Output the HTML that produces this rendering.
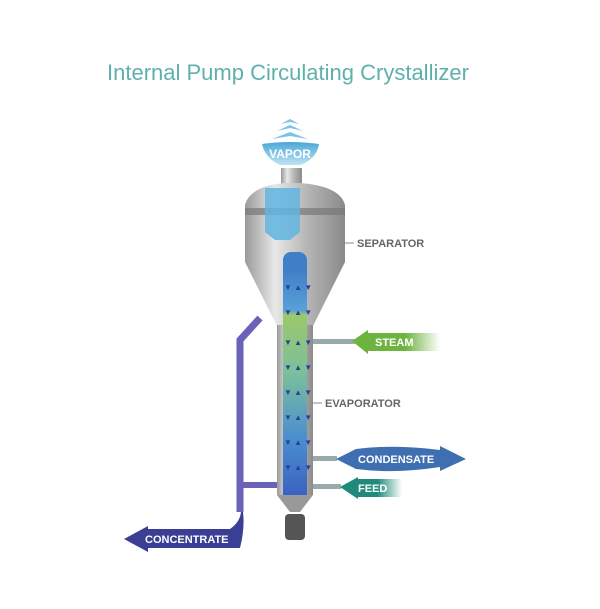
<!DOCTYPE html>
<html><head><style>
body{margin:0;background:#fff}
svg{display:block}
text{font-family:"Liberation Sans",sans-serif}
</style></head><body>
<svg width="600" height="609" viewBox="0 0 600 609">
<defs>
<linearGradient id="metal" x1="0" x2="1">
<stop offset="0" stop-color="#9a9a9a"/><stop offset="0.3" stop-color="#e8e8e8"/><stop offset="0.6" stop-color="#b8b8b8"/><stop offset="1" stop-color="#8a8a8a"/></linearGradient>
<linearGradient id="col" x1="0" y1="0" x2="0" y2="1">
<stop offset="0" stop-color="#3f7fc8"/><stop offset="0.18" stop-color="#5aa0d8"/><stop offset="0.2" stop-color="#9cc86a"/><stop offset="0.45" stop-color="#7cc09a"/><stop offset="0.75" stop-color="#4a8ed0"/><stop offset="1" stop-color="#3a62c0"/></linearGradient>
<linearGradient id="steam" x1="0" x2="1"><stop offset="0.6" stop-color="#6cb33f"/><stop offset="1" stop-color="#6cb33f" stop-opacity="0"/></linearGradient>
<linearGradient id="feed" x1="0" x2="1"><stop offset="0.6" stop-color="#1f8a7a"/><stop offset="1" stop-color="#1f8a7a" stop-opacity="0"/></linearGradient>
<linearGradient id="vap" x1="0" y1="0" x2="0" y2="1"><stop offset="0" stop-color="#4aa8d8"/><stop offset="1" stop-color="#bfe3f3"/></linearGradient>
</defs>
<text x="107" y="80" font-size="22" fill="#5fb0ad">Internal Pump Circulating Crystallizer</text>
<g fill="#7cc4e6">
<polygon points="281,124 290,119 299,124 290,122"/>
<polygon points="277,131 290,125 303,131 290,128"/>
<polygon points="272,139 290,132 308,139 290,136"/>
</g>
<path d="M262,144 Q290,140 319,144 Q317,158 301,165 L280,165 Q265,158 262,144Z" fill="url(#vap)"/>
<text x="290" y="158" font-size="12" font-weight="bold" fill="#fff" text-anchor="middle">VAPOR</text>
<rect x="281" y="168" width="21" height="18" fill="url(#metal)"/>
<path d="M245,205 Q250,186 285,183 L300,183 Q340,186 345,205 L345,262 L313,326 L277,326 L245,262Z" fill="url(#metal)"/>
<rect x="245" y="208" width="100" height="7" fill="#777" opacity="0.7"/>
<path d="M265,188 L300,188 L300,232 L290,240 L275,240 L265,232Z" fill="#5fb4e0" opacity="0.85"/>
<rect x="283" y="252" width="24" height="80" rx="8" fill="#3f7fc8"/>
<rect x="277" y="325" width="36" height="170" fill="url(#metal)"/>
<rect x="283" y="270" width="24" height="225" fill="url(#col)"/>
<g fill="#2a3f9a" font-size="8" font-family="DejaVu Sans">
<text x="284" y="290">▼ ▲ ▼</text><text x="284" y="315">▼ ▲ ▼</text><text x="284" y="345">▼ ▲ ▼</text><text x="284" y="370">▼ ▲ ▼</text><text x="284" y="395">▼ ▲ ▼</text><text x="284" y="420">▼ ▲ ▼</text><text x="284" y="445">▼ ▲ ▼</text><text x="284" y="470">▼ ▲ ▼</text>
</g>
<polygon points="277,495 313,495 300,512 290,512" fill="#999"/>
<rect x="285" y="514" width="20" height="26" rx="4" fill="#555"/>
<path d="M240,512 L240,340 L260,318" fill="none" stroke="#6a62b8" stroke-width="7"/>
<path d="M240,485 L277,485" stroke="#6a62b8" stroke-width="6"/>
<rect x="313" y="339" width="42" height="5" fill="#9aa"/>
<rect x="313" y="456" width="24" height="5" fill="#9aa"/>
<rect x="313" y="484" width="28" height="5" fill="#9aa"/>
<path d="M352,341 L368,330 L368,333 L440,333 L440,351 L368,351 L368,354Z" fill="url(#steam)"/>
<text x="375" y="346" font-size="11" font-weight="bold" fill="#fff">STEAM</text>
<path d="M336,459 L356,449 Q395,444 440,450 L440,446 L466,459 L440,471 L440,467 Q395,474 356,469Z" fill="#3f6fb0"/>
<text x="358" y="463" font-size="11" font-weight="bold" fill="#fff">CONDENSATE</text>
<path d="M340,487 L358,477 L358,479 L402,479 L402,497 L358,497 L358,499Z" fill="url(#feed)"/>
<text x="358" y="492" font-size="11" font-weight="bold" fill="#fff">FEED</text>
<path d="M124,539 L148,526 L148,529 L230,529 Q240,522 241,512 L243,512 Q245,528 240,548 L148,548 L148,552Z" fill="#3a3f95"/>
<text x="145" y="543" font-size="11" font-weight="bold" fill="#fff">CONCENTRATE</text>
<line x1="345" y1="243" x2="354" y2="243" stroke="#888"/>
<text x="357" y="247" font-size="11" font-weight="bold" fill="#666">SEPARATOR</text>
<line x1="313" y1="403" x2="322" y2="403" stroke="#888"/>
<text x="325" y="407" font-size="11" font-weight="bold" fill="#666">EVAPORATOR</text>
</svg>
</body></html>
